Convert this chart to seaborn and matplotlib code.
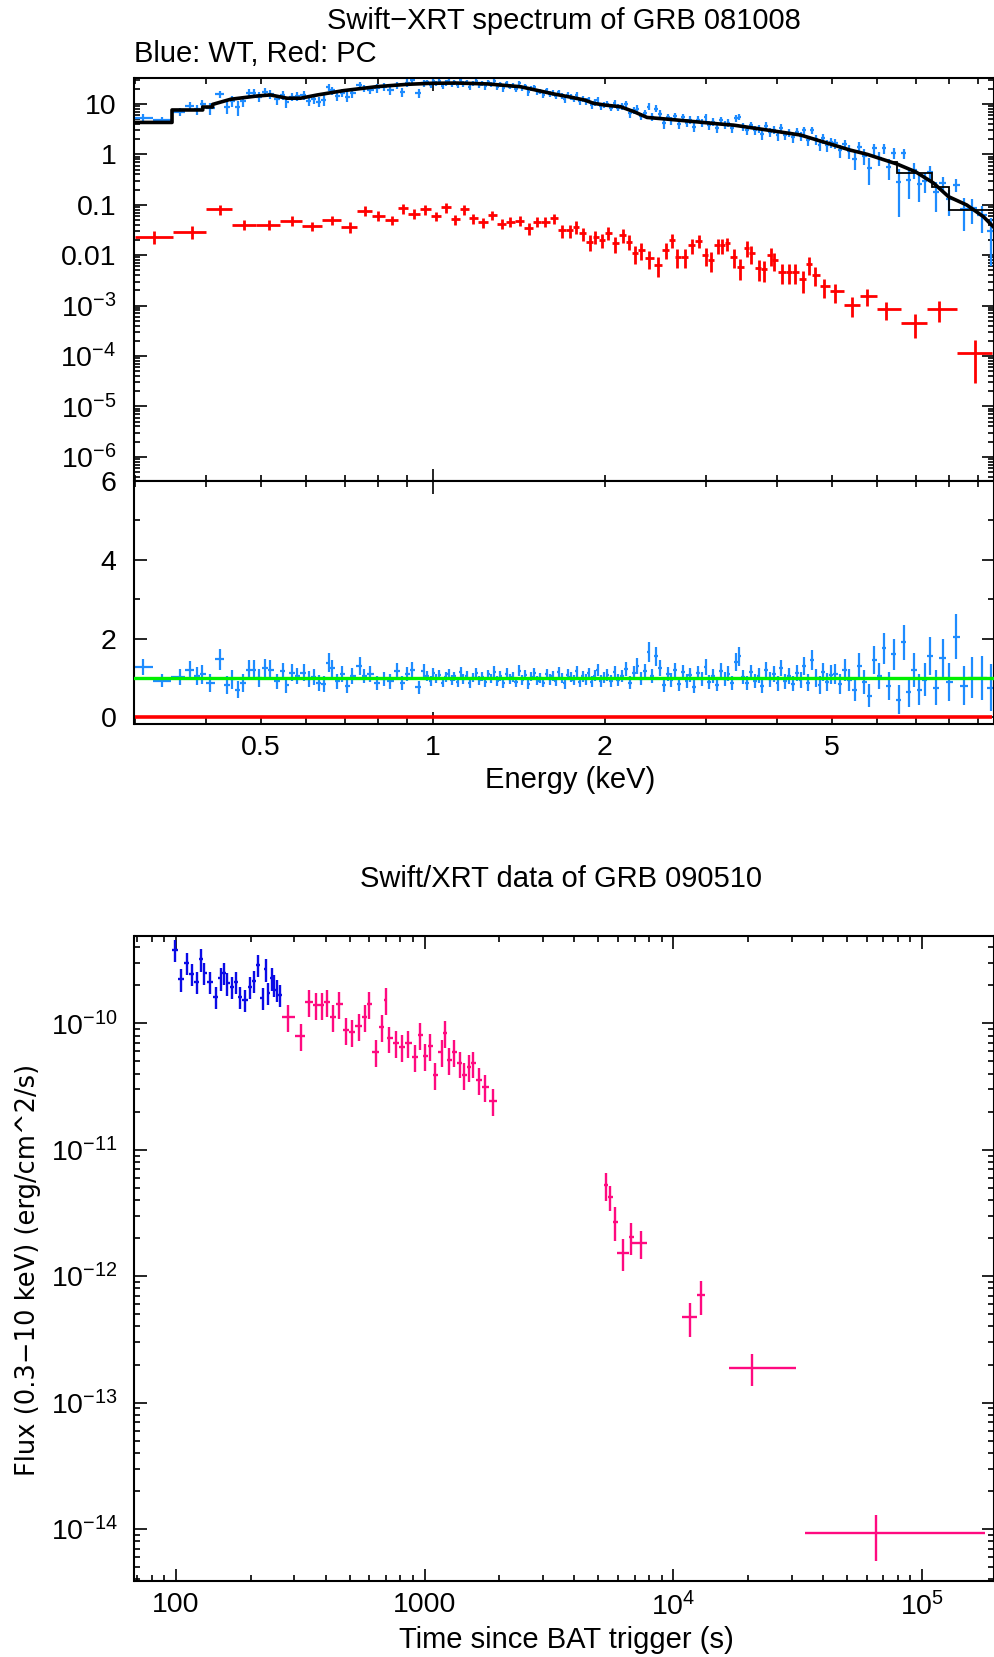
import numpy as np
import matplotlib
matplotlib.use("Agg")
import matplotlib.pyplot as plt
import matplotlib.ticker as mticker
import seaborn as sns

# ---------------- Swift-XRT spectrum of GRB 081008 ----------------
# WT mode (blue): energy (keV), flux, data/model ratio, ratio error
wt_energy = [
    0.3105, 0.3352, 0.3598, 0.3758, 0.3861, 0.3940, 0.4074, 0.4241, 0.4357, 0.4446,
    0.4548, 0.4649, 0.4755, 0.4851, 0.4950, 0.5085, 0.5188, 0.5330, 0.5460, 0.5534,
    0.5663, 0.5777, 0.5933, 0.6054, 0.6178, 0.6303, 0.6432, 0.6563, 0.6653, 0.6789,
    0.6928, 0.7069, 0.7213, 0.7458, 0.7559, 0.7763, 0.7979, 0.8194, 0.8417, 0.8650,
    0.8823, 0.9005, 0.9188, 0.9436, 0.9627,
    0.975, 0.99, 1.0, 1.013, 1.025, 1.04, 1.052, 1.065, 1.078, 1.09,
    1.105, 1.118, 1.13, 1.145, 1.16, 1.175, 1.19, 1.205, 1.22, 1.235,
    1.25, 1.265, 1.28, 1.295, 1.31, 1.328, 1.345, 1.362, 1.38, 1.397,
    1.415, 1.432, 1.45, 1.468, 1.486, 1.505, 1.523, 1.542, 1.56, 1.58,
    1.6, 1.62, 1.64, 1.66, 1.68, 1.70, 1.72, 1.742, 1.764, 1.786,
    1.808, 1.83, 1.852, 1.875, 1.898, 1.92, 1.944, 1.968, 1.992,
    2.02, 2.05, 2.08, 2.11, 2.145, 2.18, 2.21, 2.245, 2.28, 2.315,
    2.35, 2.385, 2.42, 2.46, 2.5, 2.535, 2.575, 2.615, 2.655, 2.695,
    2.735, 2.78, 2.82, 2.865, 2.91, 2.955, 3.0, 3.045, 3.09, 3.14,
    3.19, 3.24, 3.29, 3.34, 3.39, 3.44, 3.495, 3.55, 3.6, 3.66,
    3.715, 3.77, 3.83, 3.89, 3.95, 4.01, 4.07, 4.135, 4.2, 4.265,
    4.33, 4.4, 4.465, 4.535, 4.605, 4.675, 4.75, 4.82, 4.895, 4.97,
    5.06, 5.16, 5.26, 5.36, 5.47, 5.58, 5.69, 5.8, 5.92, 6.04,
    6.16, 6.28, 6.41, 6.54, 6.67, 6.81, 6.95, 7.1, 7.26, 7.42,
    7.6, 7.8, 8.0, 8.25, 8.5, 8.8, 9.15, 9.5]
wt_flux = [
    5.35, 4.8, 7.0, 9.1, 7.8, 9.9, 8.2, 15.6, 8.6, 11.6,
    8.6, 11.5, 16.3, 16.8, 14.0, 17.5, 15.8, 12.4, 15.1, 11.1,
    14.0, 14.4, 15.1, 11.6, 12.4, 11.1, 12.0, 21.4, 18.5, 14.4,
    16.8, 14.0, 16.3, 23.8, 20.5, 19.0, 20.5, 22.1, 19.0, 23.8,
    17.5, 26.5, 30.0, 16.3, 25.7,
    27.0, 23.7, 29.0, 25.5, 28.1, 22.9, 26.5, 28.6, 24.7, 27.0,
    23.4, 29.8, 25.0, 27.2, 22.0, 25.8, 28.4, 23.8, 26.0, 22.3,
    27.1, 24.4, 28.3, 22.2, 25.0, 20.4, 25.8, 22.2, 23.1, 20.1,
    26.1, 20.5, 22.4, 17.0, 20.2, 21.5, 17.2, 18.0, 15.4, 18.7,
    15.7, 16.7, 14.2, 17.2, 14.6, 12.3, 15.1, 13.9, 12.5, 15.1,
    11.2, 12.7, 11.3, 12.4, 9.5, 10.8, 12.0, 9.0, 9.6,
    10.2, 8.5, 10.4, 8.5, 9.0, 9.8, 6.5, 7.6, 8.1, 5.7,
    6.5, 8.9, 5.6, 8.1, 6.4, 4.1, 5.5, 4.7, 5.8, 4.0,
    5.4, 4.2, 4.9, 3.5, 4.9, 4.2, 5.5, 3.8, 4.4, 3.4,
    4.7, 3.9, 4.2, 3.3, 5.2, 5.6, 3.6, 3.0, 3.8, 3.0,
    3.3, 2.5, 3.7, 2.8, 3.1, 2.4, 3.4, 2.4, 2.7, 2.2,
    2.8, 2.3, 3.0, 1.9, 3.0, 2.0, 1.56, 2.07, 1.53, 1.73,
    1.65, 1.20, 1.58, 1.17, 0.81, 1.43, 0.94, 0.54, 1.31, 0.86,
    1.33, 0.57, 1.07, 0.28, 1.05, 0.31, 0.50, 0.26, 0.30, 0.45,
    0.18, 0.27, 0.13, 0.25, 0.082, 0.085, 0.062, 0.030]
wt_ratio = [
    1.27, 0.93, 1.03, 1.19, 1.05, 1.09, 0.87, 1.47, 0.82, 0.97,
    0.70, 0.87, 1.21, 1.21, 1.00, 1.24, 1.21, 0.91, 1.17, 0.82,
    1.13, 1.05, 1.13, 0.97, 1.03, 0.87, 0.84, 1.39, 1.24, 0.91,
    1.09, 0.79, 1.05, 1.30, 1.05, 1.09, 0.87, 0.97, 0.91, 1.17,
    0.87, 1.09, 1.21, 0.76, 1.17,
    1.05, 0.92, 1.12, 0.98, 1.08, 0.88, 1.02, 1.10, 0.95, 1.04,
    0.90, 1.15, 0.97, 1.06, 0.86, 1.01, 1.12, 0.94, 1.03, 0.89,
    1.09, 0.99, 1.16, 0.92, 1.05, 0.87, 1.11, 0.97, 1.02, 0.90,
    1.18, 0.95, 1.07, 0.84, 1.03, 1.13, 0.93, 1.00, 0.88, 1.10,
    0.96, 1.05, 0.91, 1.14, 0.99, 0.86, 1.08, 1.02, 0.94, 1.17,
    0.89, 1.04, 0.97, 1.12, 0.90, 1.06, 1.20, 0.93, 1.01,
    1.08, 0.92, 1.15, 0.95, 1.05, 1.22, 0.88, 1.12, 1.30, 0.98,
    1.18, 1.65, 1.05, 1.55, 1.25, 0.82, 1.10, 0.95, 1.20, 0.85,
    1.15, 0.92, 1.08, 0.78, 1.12, 0.97, 1.28, 0.90, 1.05, 0.83,
    1.18, 0.98, 1.10, 0.87, 1.40, 1.55, 1.02, 0.88, 1.15, 0.93,
    1.06, 0.80, 1.20, 0.96, 1.10, 0.86, 1.25, 0.92, 1.05, 0.85,
    1.12, 0.95, 1.30, 0.88, 1.45, 1.00, 0.82, 1.15, 0.90, 1.08,
    1.10, 0.85, 1.20, 0.95, 0.70, 1.30, 0.90, 0.55, 1.45, 1.05,
    1.75, 0.80, 1.60, 0.45, 1.90, 0.65, 1.20, 0.70, 0.95, 1.55,
    0.75, 1.50, 0.90, 2.05, 0.80, 1.00, 1.00, 0.75]
wt_ratio_err = [
    0.20, 0.16, 0.20, 0.24, 0.22, 0.24, 0.22, 0.26, 0.22, 0.24,
    0.22, 0.22, 0.24, 0.24, 0.22, 0.24, 0.24, 0.20, 0.22, 0.20,
    0.22, 0.20, 0.22, 0.20, 0.20, 0.20, 0.20, 0.24, 0.22, 0.18,
    0.20, 0.18, 0.20, 0.22, 0.18, 0.20, 0.18, 0.18, 0.18, 0.20,
    0.18, 0.18, 0.20, 0.16, 0.18,
    0.12, 0.12, 0.13, 0.12, 0.12, 0.12, 0.13, 0.12, 0.12, 0.12,
    0.12, 0.13, 0.12, 0.12, 0.12, 0.12, 0.13, 0.12, 0.12, 0.12,
    0.12, 0.12, 0.13, 0.12, 0.12, 0.12, 0.13, 0.12, 0.12, 0.12,
    0.14, 0.12, 0.13, 0.12, 0.12, 0.13, 0.12, 0.12, 0.12, 0.13,
    0.13, 0.13, 0.12, 0.14, 0.13, 0.13, 0.14, 0.13, 0.13, 0.14,
    0.13, 0.14, 0.14, 0.14, 0.14, 0.15, 0.15, 0.15, 0.15,
    0.15, 0.15, 0.16, 0.15, 0.16, 0.18, 0.16, 0.17, 0.20, 0.17,
    0.18, 0.25, 0.18, 0.24, 0.20, 0.17, 0.18, 0.17, 0.19, 0.17,
    0.18, 0.17, 0.18, 0.17, 0.18, 0.17, 0.20, 0.17, 0.18, 0.17,
    0.19, 0.18, 0.19, 0.18, 0.22, 0.24, 0.18, 0.18, 0.19, 0.18,
    0.19, 0.18, 0.20, 0.19, 0.20, 0.19, 0.21, 0.19, 0.20, 0.19,
    0.21, 0.20, 0.23, 0.21, 0.25, 0.22, 0.22, 0.24, 0.23, 0.24,
    0.26, 0.26, 0.28, 0.28, 0.28, 0.32, 0.30, 0.30, 0.36, 0.34,
    0.40, 0.36, 0.40, 0.36, 0.45, 0.38, 0.42, 0.40, 0.42, 0.48,
    0.45, 0.50, 0.48, 0.58, 0.50, 0.52, 0.55, 0.60]

# PC mode (red): energy (keV), flux, relative error
pc_energy = [
    0.325, 0.379, 0.424, 0.466, 0.515, 0.566, 0.614, 0.665, 0.714, 0.761,
    0.800, 0.848, 0.886, 0.925, 0.969, 1.013, 1.055, 1.094, 1.134, 1.175,
    1.223, 1.269, 1.320, 1.366, 1.418, 1.470, 1.520, 1.573, 1.626, 1.683,
    1.734, 1.776, 1.830, 1.880, 1.924, 1.976, 2.024, 2.085, 2.147, 2.200,
    2.255, 2.313, 2.393, 2.480, 2.560, 2.620, 2.675, 2.760, 2.840, 2.920,
    3.000, 3.070, 3.150, 3.210, 3.270, 3.360, 3.450, 3.550, 3.610, 3.720,
    3.790, 3.900, 3.960, 4.090, 4.200, 4.310, 4.450, 4.560, 4.670, 4.840,
    5.060, 5.420, 5.760, 6.220, 6.980, 7.700, 8.880]
pc_flux = [
    0.0233, 0.0293, 0.081, 0.040, 0.040, 0.048, 0.038, 0.050, 0.037, 0.076,
    0.061, 0.050, 0.085, 0.066, 0.081, 0.060, 0.089, 0.051, 0.081, 0.054,
    0.045, 0.063, 0.042, 0.046, 0.048, 0.034, 0.046, 0.046, 0.054, 0.031,
    0.031, 0.037, 0.027, 0.0186, 0.0233, 0.020, 0.028, 0.0172, 0.025, 0.0186,
    0.011, 0.0127, 0.0087, 0.0064, 0.0127, 0.020, 0.0093, 0.0093, 0.0158, 0.0194,
    0.010, 0.008, 0.0158, 0.0158, 0.0172, 0.0093, 0.0059, 0.0139, 0.011, 0.0055,
    0.0053, 0.010, 0.008, 0.0047, 0.0047, 0.0047, 0.0033, 0.0066, 0.0041, 0.0024,
    0.0019, 0.00103, 0.00155, 0.00085, 0.00046, 0.00086, 0.000117]
pc_rel_err = [
    0.30, 0.30, 0.22, 0.22, 0.22, 0.22, 0.22, 0.22, 0.25, 0.22,
    0.22, 0.22, 0.22, 0.22, 0.22, 0.22, 0.22, 0.22, 0.22, 0.22,
    0.22, 0.22, 0.22, 0.22, 0.22, 0.25, 0.22, 0.22, 0.22, 0.28,
    0.28, 0.28, 0.30, 0.35, 0.30, 0.32, 0.30, 0.35, 0.30, 0.32,
    0.40, 0.38, 0.40, 0.42, 0.35, 0.30, 0.40, 0.40, 0.32, 0.30,
    0.40, 0.42, 0.32, 0.32, 0.30, 0.40, 0.45, 0.35, 0.38, 0.45,
    0.45, 0.38, 0.40, 0.42, 0.42, 0.42, 0.45, 0.38, 0.40, 0.42,
    0.40, 0.42, 0.38, 0.40, 0.50, 0.45, 0.75]

# Folded model (black)
model_energy = [0.300, 0.349, 0.349, 0.395, 0.395, 0.411, 0.411, 0.442, 0.492, 0.519,
                0.555, 0.586, 0.627, 0.697, 0.798, 0.900, 0.990, 1.100, 1.243, 1.310,
                1.422, 1.560, 1.627, 1.750, 1.840, 1.910, 2.000, 2.130, 2.250, 2.370,
                2.570, 2.785, 3.180, 3.360, 3.840, 4.400, 5.030, 5.370, 5.760, 6.500,
                7.000, 7.520, 7.990, 8.600, 9.200, 9.660]
model_flux = [4.3, 4.3, 7.6, 7.6, 8.7, 8.7, 9.8, 12.4, 14.4, 15.1,
              13.0, 13.0, 15.1, 18.4, 22.1, 24.5, 25.7, 26.0, 25.0, 23.8,
              22.0, 17.5, 15.8, 13.5, 12.0, 10.3, 9.5, 8.8, 7.0, 5.4,
              5.0, 4.6, 4.0, 3.8, 3.05, 2.42, 1.53, 1.22, 1.0, 0.64,
              0.45, 0.27, 0.145, 0.099, 0.058, 0.033]
coarse_edges = [6.3, 6.5, 7.47, 8.0, 9.7]
coarse_flux = [0.72, 0.42, 0.23, 0.079]

# ---------------- Swift/XRT light curve of GRB 090510 ----------------
lc_wt_time = [99.3, 104.6, 110.6, 115.8, 121.3, 126.3, 130.2, 137.2, 144.7, 151.6,
              156.2, 161.0, 167.8, 174.5, 181.0, 189.8, 198.7, 206.2, 214.5, 223.4,
              229.8, 235.3, 242.8, 248.1, 254.3, 262.1]
lc_wt_flux = [3.8e-10, 2.23e-10, 2.99e-10, 2.45e-10, 2.13e-10, 3.2e-10, 2.49e-10, 2.13e-10,
              1.62e-10, 2.27e-10, 2.49e-10, 2.07e-10, 1.95e-10, 2.13e-10, 1.62e-10, 1.53e-10,
              1.95e-10, 2.17e-10, 2.89e-10, 1.58e-10, 2.67e-10, 1.75e-10, 2.27e-10, 2.0e-10,
              1.83e-10, 1.67e-10]
lc_wt_rel_err = 0.2
lc_pc_time = [283.6, 320.1, 344, 366, 386, 406, 429, 454, 483, 509,
              547, 576, 597, 636, 673, 698, 721, 767, 814, 860,
              915, 960, 1006, 1055, 1105, 1172, 1211, 1257, 1315, 1386,
              1441, 1513, 1570, 1656, 1743, 1877]
lc_pc_flux = [1.13e-10, 0.79e-10, 1.48e-10, 1.40e-10, 1.40e-10, 1.48e-10, 1.13e-10, 1.42e-10,
              0.885e-10, 0.86e-10, 0.95e-10, 1.13e-10, 1.42e-10, 0.596e-10, 0.94e-10, 1.53e-10,
              0.76e-10, 0.695e-10, 0.646e-10, 0.703e-10, 0.545e-10, 0.807e-10, 0.55e-10,
              0.66e-10, 0.39e-10, 0.596e-10, 0.834e-10, 0.513e-10, 0.596e-10, 0.482e-10,
              0.39e-10, 0.454e-10, 0.482e-10, 0.356e-10, 0.315e-10, 0.244e-10]
lc_pc_rel_err = 0.24
lc_late_time = [5370, 5590, 5860, 6290, 6790, 7420, 11730, 12950, 20750, 65200]
lc_late_tlo = [5250, 5480, 5720, 5950, 6650, 6850, 10830, 12480, 16770, 34000]
lc_late_thi = [5480, 5720, 6000, 6650, 6950, 7850, 12480, 13400, 31300, 179500]
lc_late_flux = [5.26e-12, 4.2e-12, 2.69e-12, 1.53e-12, 2.05e-12, 1.82e-12,
                4.72e-13, 7.08e-13, 1.88e-13, 9.25e-15]
lc_late_rel_err = [0.25, 0.22, 0.30, 0.28, 0.28, 0.25, 0.30, 0.30, 0.28, 0.40]

energy_tick_labels = {0.5: "0.5", 1.0: "1", 2.0: "2", 5.0: "5"}
spec_y_ticks = [1e-6, 1e-5, 1e-4, 1e-3, 0.01, 0.1, 1, 10]
time_ticks = [100, 1000, 1e4, 1e5]
time_tick_labels = ["100", "1000", r"$\mathregular{10^{4}}$", r"$\mathregular{10^{5}}$"]
flux_ticks = [1e-14, 1e-13, 1e-12, 1e-11, 1e-10]

# ---------------- style ----------------
sns.set_theme(style="ticks")
plt.rcParams.update({
    "font.family": ["Liberation Sans", "DejaVu Sans"],
    "mathtext.fontset": "custom",
    "mathtext.rm": "Liberation Sans",
    "mathtext.it": "Liberation Sans:italic",
    "mathtext.bf": "Liberation Sans:bold",
    "axes.edgecolor": "black",
    "axes.linewidth": 1.5,
    "xtick.color": "black",
    "ytick.color": "black",
    "text.color": "black",
    "axes.labelcolor": "black",
})

BLUE = "#1e8cff"
RED = "#ff0000"
GREEN = "#00f000"
LC_BLUE = "#0a0ae6"
LC_PINK = "#ff0a80"
TICK_FS = 20.5
TXT_FS = 21

W, H = 995, 1657
fig = plt.figure(figsize=(W / 100, H / 100), dpi=100)
fig.patch.set_facecolor("white")


def fx(px):
    return px / W


def fy(py):
    return 1 - py / H


L, R = 134.5, 994.0
ax1 = fig.add_axes([fx(L), fy(481), fx(R) - fx(L), fy(77.7) - fy(481)])
ax2 = fig.add_axes([fx(L), fy(723.6), fx(R) - fx(L), fy(481) - fy(723.6)])
ax3 = fig.add_axes([fx(L), fy(1580.7), fx(R) - fx(L), fy(935.7) - fy(1580.7)])


def log_half_widths(c):
    c = np.asarray(c, float)
    lc = np.log10(c)
    mid = (lc[1:] + lc[:-1]) / 2
    lo = np.concatenate([[2 * lc[0] - mid[0]], mid])
    hi = np.concatenate([mid, [2 * lc[-1] - mid[-1]]])
    return c - 10 ** lo, 10 ** hi - c


def minor_log_positions(lo_exp, hi_exp):
    return [m * 10.0 ** e for e in range(lo_exp, hi_exp + 1) for m in range(2, 10)]


# ---- top panel: spectrum ----
E = np.array(wt_energy)
F = np.array(wt_flux)
Rt = np.array(wt_ratio)
Re = np.array(wt_ratio_err)
Fe = F * Re / Rt
exlo, exhi = log_half_widths(E)
ax1.errorbar(E, F, xerr=[exlo, exhi], yerr=[np.minimum(Fe, 0.95 * F), Fe],
             fmt="none", ecolor=BLUE, elinewidth=1.6, capsize=0, zorder=2)

Ep = np.array(pc_energy)
Fp = np.array(pc_flux)
Fpe = Fp * np.array(pc_rel_err)
pxlo, pxhi = log_half_widths(Ep)
ax1.errorbar(Ep, Fp, xerr=[pxlo, pxhi], yerr=[Fpe, Fpe], fmt="none",
             ecolor=RED, elinewidth=2.0, capsize=0, zorder=2)

sns.lineplot(x=model_energy, y=model_flux, ax=ax1, color="black", lw=2.6,
             estimator=None, sort=False, zorder=3)
ax1.stairs(coarse_flux, coarse_edges, color="black", lw=1.3, baseline=None, zorder=3)

ax1.set_xscale("log")
ax1.set_yscale("log")
ax1.set_xlim(0.3, 9.6)
ax1.set_ylim(3.3e-7, 33.2)


def spec_yfmt(v, pos):
    e = int(round(np.log10(v)))
    named = {1: "10", 0: "1", -1: "0.1", -2: "0.01"}
    if e in named:
        return named[e]
    return r"$\mathregular{10^{%d}}$" % e


ax1.yaxis.set_major_locator(mticker.FixedLocator(spec_y_ticks))
ax1.yaxis.set_minor_locator(mticker.FixedLocator(
    [v for v in minor_log_positions(-7, 1) if 3.3e-7 < v < 33.2]))
ax1.yaxis.set_major_formatter(mticker.FuncFormatter(spec_yfmt))
ax1.yaxis.set_minor_formatter(mticker.NullFormatter())

energy_major = [1.0]
energy_minor = [v for v in minor_log_positions(-1, 0) if 0.3 <= v < 9.6]


def energy_fmt(v, pos):
    for k, s in energy_tick_labels.items():
        if abs(v - k) / k < 1e-6:
            return s
    return ""


for ax in (ax1, ax2):
    ax.set_xscale("log")
    ax.set_xlim(0.3, 9.6)
    ax.xaxis.set_major_locator(mticker.FixedLocator(energy_major))
    ax.xaxis.set_minor_locator(mticker.FixedLocator(energy_minor))
    ax.xaxis.set_major_formatter(mticker.FuncFormatter(energy_fmt))
    ax.xaxis.set_minor_formatter(mticker.FuncFormatter(energy_fmt))

# ---- residual panel ----
ax2.errorbar(E, Rt, xerr=[exlo, exhi], yerr=[Re, Re], fmt="none",
             ecolor=BLUE, elinewidth=1.6, capsize=0, zorder=2)
kn_E = np.log10(np.array(model_energy[6:]))
kn_F = np.log10(np.array(model_flux[6:]))
pc_model = 10 ** np.interp(np.log10(Ep), kn_E, kn_F)
pc_ratio = Fp / pc_model
ax2.errorbar(Ep, pc_ratio, xerr=[pxlo, pxhi], yerr=[pc_ratio * 0.5, pc_ratio * 0.5],
             fmt="none", ecolor=RED, elinewidth=2.6, capsize=0, zorder=3)
ax2.axhline(1.0, color=GREEN, lw=2.4, zorder=4)
ax2.set_ylim(-0.16, 6.0)
ax2.yaxis.set_major_locator(mticker.FixedLocator([0, 2, 4, 6]))
ax2.yaxis.set_minor_locator(mticker.FixedLocator([1, 3, 5]))
ax2.yaxis.set_major_formatter(mticker.FuncFormatter(lambda v, p: "%d" % v))

for ax in (ax1, ax2, ax3):
    ax.tick_params(which="both", direction="in", top=True, right=True,
                   labelsize=TICK_FS, width=1.2)
    ax.tick_params(which="major", length=9)
    ax.tick_params(which="minor", length=4.5)
ax1.tick_params(axis="x", which="both", labelbottom=False)
ax1.tick_params(axis="y", pad=13)
ax2.tick_params(axis="y", pad=13)
ax2.tick_params(axis="x", which="both", pad=8)

# ---- light curve ----
t_wt = np.array(lc_wt_time)
f_wt = np.array(lc_wt_flux)
tlo, thi = log_half_widths(t_wt)
ax3.errorbar(t_wt, f_wt, xerr=[tlo, thi], yerr=f_wt * lc_wt_rel_err, fmt="none",
             ecolor=LC_BLUE, elinewidth=1.7, capsize=0)
t_pc = np.array(lc_pc_time)
f_pc = np.array(lc_pc_flux)
tlo, thi = log_half_widths(t_pc)
ax3.errorbar(t_pc, f_pc, xerr=[tlo, thi], yerr=f_pc * lc_pc_rel_err, fmt="none",
             ecolor=LC_PINK, elinewidth=1.7, capsize=0)
t_l = np.array(lc_late_time)
f_l = np.array(lc_late_flux)
ax3.errorbar(t_l, f_l, xerr=[t_l - np.array(lc_late_tlo), np.array(lc_late_thi) - t_l],
             yerr=f_l * np.array(lc_late_rel_err), fmt="none",
             ecolor=LC_PINK, elinewidth=1.7, capsize=0)

ax3.set_xscale("log")
ax3.set_yscale("log")
ax3.set_xlim(68.2, 1.95e5)
ax3.set_ylim(3.9e-15, 4.93e-10)
ax3.xaxis.set_major_locator(mticker.FixedLocator(time_ticks))
ax3.xaxis.set_minor_locator(mticker.FixedLocator(
    [v for v in minor_log_positions(1, 5) if 68.2 < v < 1.95e5]))
ax3.xaxis.set_major_formatter(mticker.FixedFormatter(time_tick_labels))
ax3.xaxis.set_minor_formatter(mticker.NullFormatter())
ax3.yaxis.set_major_locator(mticker.FixedLocator(flux_ticks))
ax3.yaxis.set_minor_locator(mticker.FixedLocator(
    [v for v in minor_log_positions(-15, -10) if 3.9e-15 < v < 4.93e-10]))
ax3.yaxis.set_major_formatter(mticker.FuncFormatter(
    lambda v, p: r"$\mathregular{10^{%d}}$" % int(round(np.log10(v)))))
ax3.yaxis.set_minor_formatter(mticker.NullFormatter())
ax3.tick_params(axis="y", pad=12)
ax3.tick_params(axis="x", pad=8)

# ---- texts ----
fig.text(fx((L + R) / 2), fy(21), "Swift\u2212XRT spectrum of GRB 081008",
         ha="center", va="center", fontsize=TXT_FS)
fig.text(fx(L), fy(54), "Blue: WT, Red: PC", ha="left", va="center", fontsize=TXT_FS)
fig.text(fx(570), fy(780), "Energy (keV)", ha="center", va="center", fontsize=TXT_FS)
fig.text(fx(561), fy(879), "Swift/XRT data of GRB 090510", ha="center", va="center",
         fontsize=TXT_FS)
fig.text(fx(566), fy(1640), "Time since BAT trigger (s)", ha="center", va="center",
         fontsize=TXT_FS)
fig.text(fx(28), fy(1270), "Flux (0.3\u221210 keV) (erg/cm^2/s)", rotation=90,
         ha="center", va="center", fontsize=18.5, family=["DejaVu Sans"])

fig.savefig("out.png", dpi=100)
